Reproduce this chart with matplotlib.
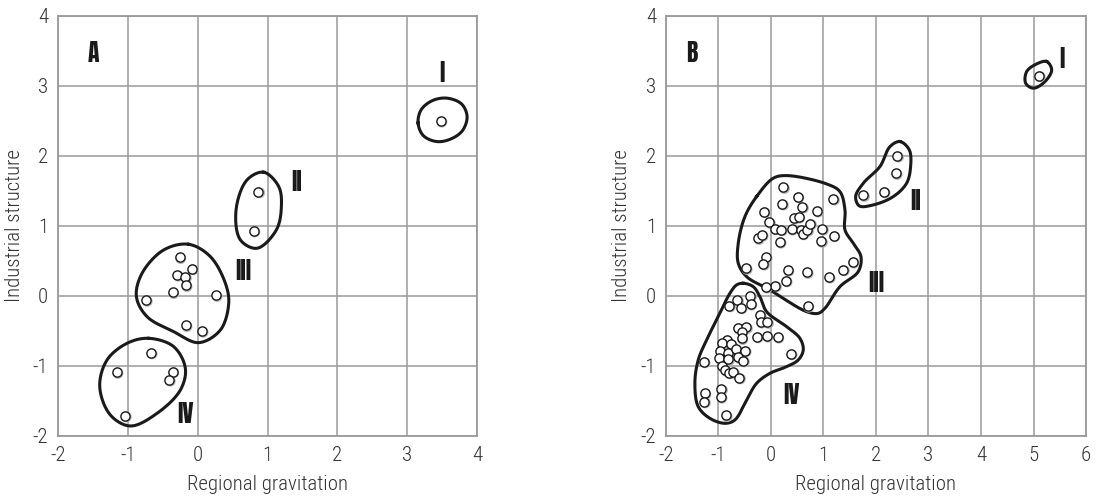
import matplotlib
matplotlib.use("Agg")
import matplotlib.pyplot as plt
import matplotlib.transforms as mtransforms
import numpy as np

plt.rcParams['font.family'] = ['Roboto Condensed', 'DejaVu Sans']
plt.rcParams['axes.unicode_minus'] = False

# --- Panel A data ---
a_x = [3.48, 0.87, 0.80,
       -0.26, -0.08, -0.29, -0.18, -0.17, -0.36, -0.74, 0.26, -0.17, 0.06,
       -0.67, -1.16, -0.36, -0.41, -1.04]
a_y = [2.50, 1.49, 0.93,
       0.55, 0.39, 0.30, 0.27, 0.15, 0.05, -0.06, 0.01, -0.42, -0.50,
       -0.81, -1.09, -1.08, -1.20, -1.71]

# cluster outlines, panel A
a_blob_1 = [(3.155, 2.47), (3.20, 2.66), (3.36, 2.79), (3.57, 2.825), (3.78, 2.74),
            (3.857, 2.56), (3.79, 2.36), (3.62, 2.24), (3.42, 2.205), (3.23, 2.29)]
a_blob_2 = [(0.945, 1.767), (1.160, 1.562), (1.198, 1.276), (1.126, 0.943),
            (0.850, 0.681), (0.611, 0.800), (0.549, 1.229), (0.706, 1.657)]
a_blob_3 = [(-0.129, 0.738), (0.181, 0.562), (0.396, 0.181), (0.444, -0.105),
            (0.325, -0.486), (0.014, -0.667), (-0.344, -0.510), (-0.726, -0.295),
            (-0.878, -0.010), (-0.797, 0.324), (-0.487, 0.657)]
a_blob_4 = [(-0.702, -0.605), (-0.344, -0.724), (-0.177, -1.033), (-0.248, -1.343),
            (-0.582, -1.676), (-0.964, -1.857), (-1.251, -1.700), (-1.403, -1.295),
            (-1.298, -0.914), (-1.012, -0.676)]
a_labels = ["I", "II", "III", "IV"]
a_label_pos = [(3.50, 3.19), (1.41, 1.63), (0.65, 0.36), (-0.18, -1.69)]

# --- Panel B data ---
b_x = [5.105,
       2.406, 2.381, 2.152, 1.759,
       0.235, 0.508, 0.216, 0.597, 1.187, -0.133, 0.876, 0.438, 0.527, -0.032,
       0.083, 0.197, 0.394, 0.578, 0.603, 0.692, 0.749, 0.978, 1.194, -0.248,
       -0.171, 0.171, 0.959, -0.095, -0.146, -0.476, 0.317, 0.686, 1.556, 1.378,
       1.105, 0.286, 0.083, -0.095, 0.698,
       -0.394, -0.641, -0.794, -0.571, -0.387, -0.210, -0.197, -0.070, -0.635, -0.470,
       -0.559, -0.559, -0.267, -0.083, 0.127, 0.381, -0.844, -0.933, -0.756, -0.971,
       -0.813, -0.660, -0.495, -0.984, -0.813, -0.622, -0.527, -1.276, -0.940, -0.876,
       -0.800, -0.717, -0.603, -1.263, -0.946, -1.270, -0.952, -0.857]
b_y = [3.148,
       2.000, 1.752, 1.490, 1.438,
       1.552, 1.419, 1.314, 1.271, 1.386, 1.205, 1.214, 1.114, 1.129, 1.052,
       0.962, 0.948, 0.957, 0.948, 0.890, 0.943, 1.033, 0.957, 0.862, 0.824,
       0.871, 0.771, 0.781, 0.552, 0.457, 0.395, 0.371, 0.338, 0.486, 0.376,
       0.271, 0.219, 0.148, 0.129, -0.143,
       0.005, -0.057, -0.138, -0.167, -0.114, -0.271, -0.371, -0.376, -0.452, -0.448,
       -0.510, -0.605, -0.581, -0.571, -0.586, -0.824, -0.629, -0.676, -0.690, -0.781,
       -0.810, -0.762, -0.781, -0.890, -0.905, -0.876, -0.924, -0.938, -0.995, -1.057,
       -1.095, -1.090, -1.167, -1.390, -1.329, -1.510, -1.443, -1.705]

b_blob_1 = [(5.251, 3.348), (5.346, 3.229), (5.219, 3.062), (4.997, 2.967),
            (4.851, 3.038), (4.870, 3.205), (5.060, 3.314)]
b_blob_2 = [(2.457, 2.205), (2.635, 2.086), (2.660, 1.848), (2.584, 1.610),
            (2.330, 1.419), (1.949, 1.300), (1.683, 1.286), (1.613, 1.419),
            (1.759, 1.610), (2.076, 1.848), (2.267, 2.133)]
b_blob_3 = [(-0.273, 1.419), (0.044, 1.681), (0.298, 1.719), (1.060, 1.600),
            (1.314, 1.490), (1.410, 1.229), (1.410, 0.943), (1.568, 0.752),
            (1.714, 0.562), (1.663, 0.348), (1.314, 0.133), (1.029, -0.176),
            (0.902, -0.248), (0.679, -0.224), (-0.019, 0.086), (-0.463, 0.276),
            (-0.622, 0.467), (-0.622, 0.752), (-0.495, 1.133)]
b_blob_4 = [(-0.527, 0.181), (-0.337, 0.133), (-0.210, -0.010), (-0.083, -0.224),
            (0.298, -0.438), (0.552, -0.605), (0.616, -0.771), (0.521, -0.914),
            (0.298, -1.010), (-0.019, -1.105), (-0.273, -1.248), (-0.463, -1.486),
            (-0.686, -1.771), (-0.876, -1.819), (-1.162, -1.748), (-1.384, -1.581),
            (-1.448, -1.248), (-1.384, -0.914), (-1.225, -0.629), (-1.003, -0.295),
            (-0.781, 0.038), (-0.654, 0.157)]
b_labels = ["I", "II", "III", "IV"]
b_label_pos = [(5.54, 3.38), (2.76, 1.36), (2.00, 0.18), (0.40, -1.41)]

grid_color = "#9a9a9a"
ink = "#1a1a1a"
text_color = "#333333"


def closed_curve(pts, xscale=1.0, n=24):
    """ Closed centripetal Catmull-Rom through the outline points. """
    p = np.array(pts, dtype=float)
    q = p * [xscale, 1.0]  # distances measured roughly in screen units
    m = len(p)
    out = []
    for i in range(m):
        idx = [(i - 1) % m, i, (i + 1) % m, (i + 2) % m]
        P = p[idx]
        Q = q[idx]
        t = [0.0]
        for k in range(3):
            t.append(t[-1] + np.linalg.norm(Q[k + 1] - Q[k]) ** 0.5)
        t0, t1, t2, t3 = t
        tt = np.linspace(t1, t2, n, endpoint=False)[:, None]
        A1 = (t1 - tt) / (t1 - t0) * P[0] + (tt - t0) / (t1 - t0) * P[1]
        A2 = (t2 - tt) / (t2 - t1) * P[1] + (tt - t1) / (t2 - t1) * P[2]
        A3 = (t3 - tt) / (t3 - t2) * P[2] + (tt - t2) / (t3 - t2) * P[3]
        B1 = (t2 - tt) / (t2 - t0) * A1 + (tt - t0) / (t2 - t0) * A2
        B2 = (t3 - tt) / (t3 - t1) * A2 + (tt - t1) / (t3 - t1) * A3
        out.append((t2 - tt) / (t2 - t1) * B1 + (tt - t1) / (t2 - t1) * B2)
    out = np.vstack(out)
    return np.vstack([out, out[:1]])


def draw_panel(ax, xs, ys, blobs, labels, label_pos, letter, xlim):
    ax.set_xlim(*xlim)
    ax.set_ylim(-2, 4)
    ax.set_xticks(np.arange(xlim[0], xlim[1] + 1))
    ax.set_yticks(np.arange(-2, 5))
    ax.grid(True, color=grid_color, linewidth=1.1)
    ax.set_axisbelow(True)
    for s in ax.spines.values():
        s.set_color(grid_color)
        s.set_linewidth(1.3)
    ax.tick_params(length=0, labelsize=15, pad=7, labelcolor=text_color)
    for lab in ax.get_xticklabels() + ax.get_yticklabels():
        lab.set_fontweight("light")

    # x units are narrower than y units in panel B
    pos = ax.get_position()
    xscale = (pos.width * 1097 / (xlim[1] - xlim[0])) / (pos.height * 496 / 6)
    for b in blobs:
        c = closed_curve(b, xscale)
        ax.plot(c[:, 0], c[:, 1], color=ink, linewidth=2.2, zorder=3,
                solid_joinstyle="round")

    # faint drop shadow under the circles
    shadow = mtransforms.offset_copy(ax.transData, fig=ax.figure, x=1.2, y=-1.2, units="dots")
    ax.scatter(xs, ys, s=44, facecolor="none", edgecolor="#b5b5b5",
               linewidth=1.2, zorder=3.5, transform=shadow)
    ax.scatter(xs, ys, s=44, facecolor="white", edgecolor=ink,
               linewidth=1.0, zorder=4)

    for lab, (lx, ly) in zip(labels, label_pos):
        ax.text(lx, ly, lab, fontsize=17, family=["Anton", "DejaVu Sans"],
                ha="center", va="center", color=ink)
    ax.text(-1.5, 3.47, letter, fontsize=17, family=["Anton", "DejaVu Sans"],
            ha="center", va="center", color=ink)

    ax.set_xlabel("Regional gravitation", fontsize=15, fontweight="light",
                  color=text_color, va="center")
    ax.set_ylabel("Industrial structure", fontsize=15, fontweight="light",
                  color=text_color, va="center")
    ax.xaxis.set_label_coords(0.5, -0.115)
    ax.yaxis.set_label_coords(-0.105, 0.5)


fig = plt.figure(figsize=(10.97, 4.96), dpi=100)
ax_a = fig.add_axes([0.0529, 0.121, 0.382, 0.847])
ax_b = fig.add_axes([0.607, 0.121, 0.383, 0.847])

draw_panel(ax_a, a_x, a_y, [a_blob_1, a_blob_2, a_blob_3, a_blob_4],
           a_labels, a_label_pos, "A", (-2, 4))
draw_panel(ax_b, b_x, b_y, [b_blob_1, b_blob_2, b_blob_3, b_blob_4],
           b_labels, b_label_pos, "B", (-2, 6))

fig.savefig("out.png", dpi=100)
